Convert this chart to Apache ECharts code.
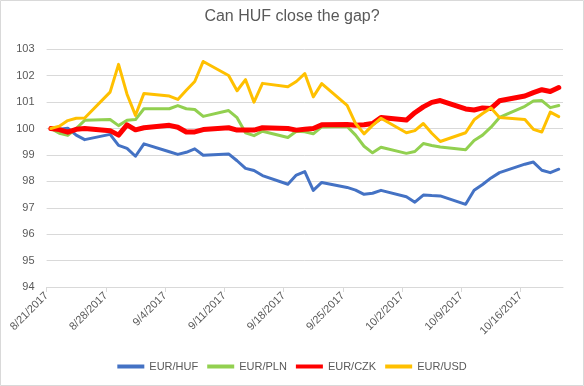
<!DOCTYPE html>
<html>
<head>
<meta charset="utf-8">
<script src="https://cdn.jsdelivr.net/npm/echarts@6/dist/echarts.min.js"></script>
<style>
html,body{margin:0;padding:0;background:#fff;}
#chart{width:584px;height:386px;}
</style>
</head>
<body>
<div id="chart"></div>
<script>
const dates = [
  '8/21/2017','8/22/2017','8/23/2017','8/24/2017','8/25/2017',
  '8/28/2017','8/29/2017','8/30/2017','8/31/2017','9/1/2017',
  '9/4/2017','9/5/2017','9/6/2017','9/7/2017','9/8/2017',
  '9/11/2017','9/12/2017','9/13/2017','9/14/2017','9/15/2017',
  '9/18/2017','9/19/2017','9/20/2017','9/21/2017','9/22/2017',
  '9/25/2017','9/26/2017','9/27/2017','9/28/2017','9/29/2017',
  '10/2/2017','10/3/2017','10/4/2017','10/5/2017','10/6/2017',
  '10/9/2017','10/10/2017','10/11/2017','10/12/2017','10/13/2017',
  '10/16/2017','10/17/2017','10/18/2017','10/19/2017','10/20/2017'
];
const eurHuf = [
  100, 99.97, 100.01, 99.75, 99.58,
  99.78, 99.36, 99.25, 98.95, 99.42,
  99.12, 99.02, 99.1, 99.23, 98.99,
  99.04, 98.78, 98.49, 98.41, 98.22,
  97.89, 98.24, 98.37, 97.66, 97.96,
  97.77, 97.67, 97.51, 97.55, 97.66,
  97.42, 97.21, 97.48, 97.46, 97.45,
  97.13, 97.66, 97.88, 98.13, 98.33,
  98.65, 98.73, 98.42, 98.33, 98.46
];
const eurPln = [
  100, 99.82, 99.74, 100.0, 100.31,
  100.34, 100.11, 100.31, 100.34, 100.75,
  100.75, 100.87, 100.75, 100.72, 100.46,
  100.68, 100.41, 99.84, 99.73, 99.9,
  99.66, 99.9, 99.88, 99.8, 100.06,
  100.08, 99.75, 99.33, 99.08, 99.29,
  99.06, 99.13, 99.43, 99.36, 99.3,
  99.2, 99.55, 99.75, 100.05, 100.42,
  100.84, 101.04, 101.06, 100.79, 100.87
];
const eurCzk = [
  100, 99.96, 99.86, 99.97, 100.0,
  99.92, 99.75, 100.14, 99.95, 100.03,
  100.12, 100.05, 99.87, 99.87, 99.96,
  100.03, 99.94, 99.94, 99.94, 100.03,
  100.0, 99.94, 99.97, 100.0, 100.14,
  100.15, 100.12, 100.14, 100.19, 100.42,
  100.32, 100.6, 100.82, 100.99, 101.06,
  100.74, 100.7, 100.78, 100.76, 101.05,
  101.23, 101.36, 101.47, 101.4, 101.55
];
const eurUsd = [
  100, 100.09, 100.3, 100.39, 100.4,
  101.38, 102.43, 101.3, 100.5, 101.33,
  101.23, 101.1, 101.45, 101.78, 102.54,
  102.01, 101.43, 101.85, 101.0, 101.71,
  101.58, 101.78, 102.08, 101.2, 101.7,
  100.88, 100.19, 99.8, 100.12, 100.39,
  99.84, 99.92, 100.19, 99.82, 99.51,
  99.84, 100.33, 100.57, 100.78, 100.42,
  100.34, 99.97, 99.87, 100.62, 100.45
];
const tickLabels = ['8/21/2017','8/28/2017','9/4/2017','9/11/2017','9/18/2017','9/25/2017','10/2/2017','10/9/2017','10/16/2017'];
const seriesNames = ['EUR/HUF','EUR/PLN','EUR/CZK','EUR/USD'];
const axisStart = '8/21/2017';
const axisEnd = '10/21/2017';

function toUTC(s){ const p = s.split('/').map(Number); return Date.UTC(p[2], p[0]-1, p[1]); }
const DAY = 86400000;
const t0 = toUTC(axisStart);
const dayPos = s => (toUTC(s) - t0) / DAY + 0.5; // centre of the day slot
const axisMax = (toUTC(axisEnd) - t0) / DAY;
function pairs(vals){ return dates.map((d,i)=>[dayPos(d), vals[i]]); }

const FONT = 'Liberation Sans';
const GREY = '#595959';
const colors = ['#4472C4','#92D050','#FF0000','#FFC000'];
const widths = [3,3,5,3];
const values = [eurHuf, eurPln, eurCzk, eurUsd];

const chart = echarts.init(document.getElementById('chart'), null, {renderer:'canvas'});
chart.setOption({
  animation:false,
  color: colors,
  textStyle:{fontFamily:FONT},
  title:{
    text:'Can HUF close the gap?', left:'center', top:9, padding:0,
    textStyle:{fontSize:16, fontWeight:'normal', color:GREY, fontFamily:FONT}
  },
  graphic:[{type:'rect', shape:{x:0.5,y:0.5,width:583,height:385}, style:{fill:'none', stroke:'#d9d9d9', lineWidth:1}, silent:true, z:-1}],
  legend:{
    bottom:9, left:'center', itemWidth:27, itemHeight:4, itemGap:9, icon:'rect',
    textStyle:{fontSize:11, color:GREY, fontFamily:FONT},
    data: seriesNames
  },
  grid:{left:46.6, right:21, top:49.3, bottom:99, containLabel:false},
  xAxis:{
    type:'value', min:0, max:axisMax, interval:7,
    axisLine:{show:true, lineStyle:{color:'#d9d9d9', width:1}},
    axisTick:{show:true, length:5, lineStyle:{color:'#d9d9d9'}},
    splitLine:{show:false},
    axisLabel:{
      rotate:45, margin:7, fontSize:11, color:GREY, fontFamily:FONT, showMaxLabel:false,
      formatter: v => (v % 7 === 0 && tickLabels[v/7]) ? tickLabels[v/7] : ''
    }
  },
  yAxis:{
    type:'value', min:94, max:103, interval:1,
    axisLine:{show:false}, axisTick:{show:false},
    splitLine:{lineStyle:{color:'#d9d9d9', width:1}},
    axisLabel:{fontSize:11, color:GREY, margin:12, fontFamily:FONT}
  },
  series: seriesNames.map((n,i)=>({
    name:n, type:'line', data:pairs(values[i]), showSymbol:false, symbol:'none',
    lineStyle:{width:widths[i], color:colors[i], cap:'round', join:'round'},
    itemStyle:{color:colors[i]}
  }))
});
</script>
</body>
</html>
